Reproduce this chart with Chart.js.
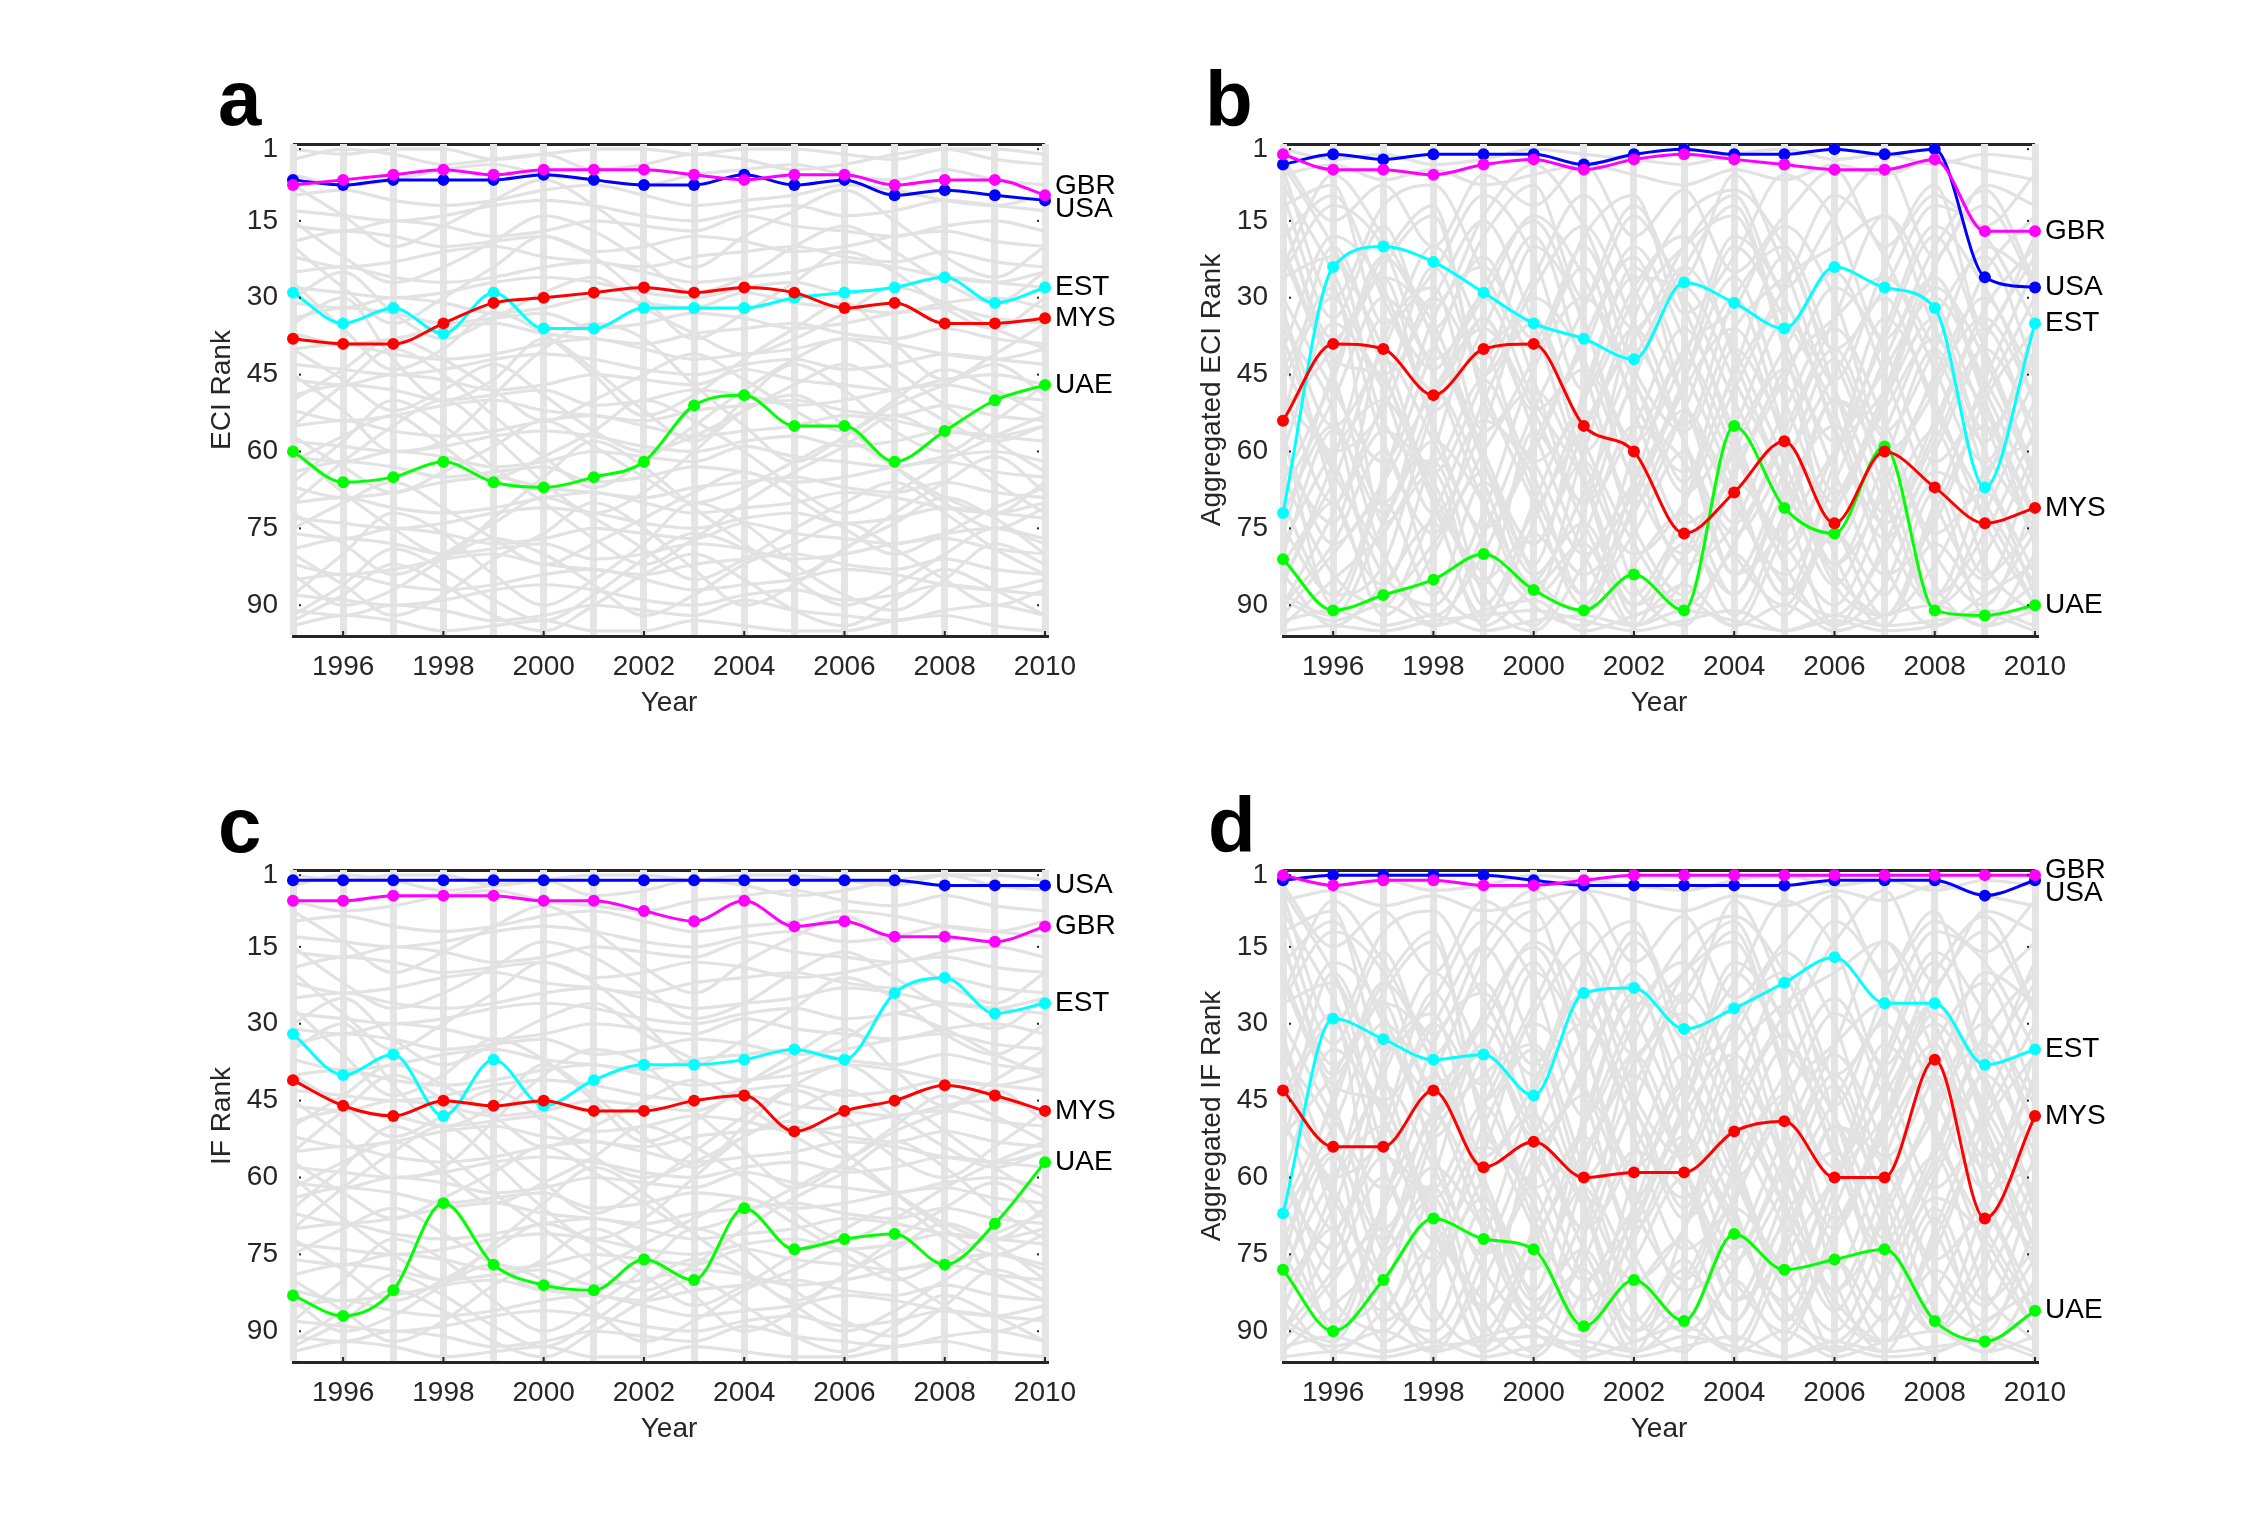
<!DOCTYPE html>
<html>
<head>
<meta charset="utf-8">
<script src="https://cdn.jsdelivr.net/npm/chart.js@4.4.0/dist/chart.umd.min.js"></script>
<style>
  body { margin: 0; background: #fff; width: 2250px; height: 1533px; position: relative; overflow: hidden; }
  canvas { position: absolute; }
</style>
</head>
<body>
<canvas id="panelA" width="1125" height="766" style="left:0;top:0"></canvas>
<canvas id="panelB" width="1125" height="766" style="left:1125px;top:0"></canvas>
<canvas id="panelC" width="1125" height="767" style="left:0;top:766px"></canvas>
<canvas id="panelD" width="1125" height="767" style="left:1125px;top:766px"></canvas>
<script>
const years = [1995, 1996, 1997, 1998, 1999, 2000, 2001, 2002, 2003, 2004, 2005, 2006, 2007, 2008, 2009, 2010];
const yearTicks = [1996, 1998, 2000, 2002, 2004, 2006, 2008, 2010];
const rankTicks = [1, 15, 30, 45, 60, 75, 90];

// a: ECI rank
const eciUSA = [7, 8, 7, 7, 7, 6, 7, 8, 8, 6, 8, 7, 10, 9, 10, 11];
const eciGBR = [8, 7, 6, 5, 6, 5, 5, 5, 6, 7, 6, 6, 8, 7, 7, 10];
const eciEST = [29, 35, 32, 37, 29, 36, 36, 32, 32, 32, 30, 29, 28, 26, 31, 28];
const eciMYS = [38, 39, 39, 35, 31, 30, 29, 28, 29, 28, 29, 32, 31, 35, 35, 34];
const eciUAE = [60, 66, 65, 62, 66, 67, 65, 62, 51, 49, 55, 55, 62, 56, 50, 47];

// b: aggregated ECI rank
const aggEciUSA = [4, 2, 3, 2, 2, 2, 4, 2, 1, 2, 2, 1, 2, 1, 26, 28];
const aggEciGBR = [2, 5, 5, 6, 4, 3, 5, 3, 2, 3, 4, 5, 5, 3, 17, 17];
const aggEciEST = [72, 24, 20, 23, 29, 35, 38, 42, 27, 31, 36, 24, 28, 32, 67, 35];
const aggEciMYS = [54, 39, 40, 49, 40, 39, 55, 60, 76, 68, 58, 74, 60, 67, 74, 71];
const aggEciUAE = [81, 91, 88, 85, 80, 87, 91, 84, 91, 55, 71, 76, 59, 91, 92, 90];

// c: IF rank
const ifUSA = [2, 2, 2, 2, 2, 2, 2, 2, 2, 2, 2, 2, 2, 3, 3, 3];
const ifGBR = [6, 6, 5, 5, 5, 6, 6, 8, 10, 6, 11, 10, 13, 13, 14, 11];
const ifEST = [32, 40, 36, 48, 37, 46, 41, 38, 38, 37, 35, 37, 24, 21, 28, 26];
const ifMYS = [41, 46, 48, 45, 46, 45, 47, 47, 45, 44, 51, 47, 45, 42, 44, 47];
const ifUAE = [83, 87, 82, 65, 77, 81, 82, 76, 80, 66, 74, 72, 71, 77, 69, 57];

// d: aggregated IF rank
const aggIfUSA = [2, 1, 1, 1, 1, 2, 3, 3, 3, 3, 3, 2, 2, 2, 5, 2];
const aggIfGBR = [1, 3, 2, 2, 3, 3, 2, 1, 1, 1, 1, 1, 1, 1, 1, 1];
const aggIfEST = [67, 29, 33, 37, 36, 44, 24, 23, 31, 27, 22, 17, 26, 26, 38, 35];
const aggIfMYS = [43, 54, 54, 43, 58, 53, 60, 59, 59, 51, 49, 60, 60, 37, 68, 48];
const aggIfUAE = [78, 90, 80, 68, 72, 74, 89, 80, 88, 71, 78, 76, 74, 88, 92, 86];

// other countries (grey), yearly ranks - the steadier set for a and c
const greyRanks = [
  [1, 2, 1, 1, 3, 2, 1, 1, 2, 1, 1, 2, 3, 1, 1, 2],
  [3, 1, 2, 4, 3, 2, 5, 4, 2, 3, 5, 4, 2, 1, 3, 4],
  [6, 8, 7, 5, 4, 6, 7, 8, 6, 5, 4, 6, 7, 5, 7, 8],
  [10, 9, 11, 12, 11, 9, 8, 10, 12, 11, 10, 8, 9, 11, 12, 10],
  [13, 14, 15, 14, 12, 11, 12, 14, 15, 13, 12, 14, 13, 11, 12, 13],
  [16, 17, 15, 16, 18, 17, 15, 16, 17, 14, 16, 17, 18, 16, 15, 17],
  [19, 17, 18, 20, 19, 18, 21, 20, 18, 19, 21, 20, 18, 17, 19, 20],
  [22, 24, 23, 21, 20, 22, 23, 24, 22, 21, 20, 22, 23, 21, 23, 24],
  [25, 24, 26, 27, 26, 24, 23, 25, 27, 26, 25, 23, 24, 26, 27, 25],
  [28, 29, 30, 29, 27, 26, 27, 29, 30, 28, 27, 29, 28, 26, 27, 28],
  [31, 32, 30, 31, 33, 32, 30, 31, 32, 29, 31, 32, 33, 31, 30, 32],
  [34, 32, 33, 35, 34, 33, 36, 35, 33, 34, 36, 35, 33, 32, 34, 35],
  [37, 39, 38, 36, 35, 37, 38, 39, 37, 36, 35, 37, 38, 36, 38, 39],
  [40, 39, 41, 42, 41, 39, 38, 40, 42, 41, 40, 38, 39, 41, 42, 40],
  [43, 44, 45, 44, 42, 41, 42, 44, 45, 43, 42, 44, 43, 41, 42, 43],
  [46, 47, 45, 46, 48, 47, 45, 46, 47, 44, 46, 47, 48, 46, 45, 47],
  [49, 47, 48, 50, 49, 48, 51, 50, 48, 49, 51, 50, 48, 47, 49, 50],
  [52, 54, 53, 51, 50, 52, 53, 54, 52, 51, 50, 52, 53, 51, 53, 54],
  [55, 54, 56, 57, 56, 54, 53, 55, 57, 56, 55, 53, 54, 56, 57, 55],
  [58, 59, 60, 59, 57, 56, 57, 59, 60, 58, 57, 59, 58, 56, 57, 58],
  [61, 62, 60, 61, 63, 62, 60, 61, 62, 59, 61, 62, 63, 61, 60, 62],
  [64, 62, 63, 65, 64, 63, 66, 65, 63, 64, 66, 65, 63, 62, 64, 65],
  [67, 69, 68, 66, 65, 67, 68, 69, 67, 66, 65, 67, 68, 66, 68, 69],
  [70, 69, 71, 72, 71, 69, 68, 70, 72, 71, 70, 68, 69, 71, 72, 70],
  [73, 74, 75, 74, 72, 71, 72, 74, 75, 73, 72, 74, 73, 71, 72, 73],
  [76, 77, 75, 76, 78, 77, 75, 76, 77, 74, 76, 77, 78, 76, 75, 77],
  [79, 77, 78, 80, 79, 78, 81, 80, 78, 79, 81, 80, 78, 77, 79, 80],
  [82, 84, 83, 81, 80, 82, 83, 84, 82, 81, 80, 82, 83, 81, 83, 84],
  [85, 84, 86, 87, 86, 84, 83, 85, 87, 86, 85, 83, 84, 86, 87, 85],
  [88, 89, 90, 89, 87, 86, 87, 89, 90, 88, 87, 89, 88, 86, 87, 88],
  [91, 92, 90, 91, 93, 92, 90, 91, 92, 89, 91, 92, 93, 91, 90, 92],
  [94, 92, 93, 95, 94, 93, 95, 95, 93, 94, 95, 95, 93, 92, 94, 95],
  [45, 52, 60, 58, 49, 40, 35, 38, 47, 55, 62, 57, 50, 44, 48, 53],
  [70, 62, 55, 50, 57, 66, 72, 68, 60, 52, 49, 55, 63, 70, 75, 71],
  [20, 28, 35, 30, 24, 18, 22, 30, 38, 33, 27, 21, 25, 32, 36, 30],
  [88, 80, 72, 76, 84, 90, 85, 78, 70, 74, 82, 88, 91, 85, 78, 82],
  [35, 30, 42, 50, 46, 38, 44, 52, 58, 50, 43, 48, 56, 60, 54, 47],
  [60, 68, 75, 80, 73, 65, 58, 63, 71, 78, 84, 79, 72, 66, 61, 68],
  [8, 14, 20, 16, 11, 7, 12, 19, 24, 18, 13, 9, 15, 22, 26, 20],
  [55, 47, 40, 45, 53, 61, 67, 62, 55, 48, 42, 38, 44, 51, 58, 64],
  [80, 86, 92, 88, 81, 76, 70, 75, 83, 90, 86, 79, 74, 69, 73, 80],
  [27, 36, 44, 40, 33, 37, 45, 53, 49, 42, 36, 31, 39, 46, 41, 35],
  [66, 58, 50, 55, 63, 70, 77, 82, 77, 70, 64, 59, 53, 58, 66, 72],
  [93, 88, 82, 86, 92, 95, 90, 84, 80, 85, 91, 94, 89, 83, 87, 92],
  [50, 44, 38, 42, 48, 54, 50, 45, 41, 46, 52, 56, 51, 47, 43, 49],
  [75, 70, 66, 71, 77, 82, 78, 73, 68, 64, 69, 75, 80, 76, 71, 67],
  [15, 22, 27, 24, 19, 14, 17, 23, 29, 26, 20, 16, 21, 27, 31, 25],
  [62, 57, 53, 59, 65, 61, 56, 50, 54, 60, 67, 72, 68, 62, 57, 53],
  [84, 90, 87, 81, 77, 80, 86, 92, 88, 82, 78, 74, 79, 85, 90, 87],
  [40, 46, 52, 48, 43, 49, 56, 60, 57, 52, 47, 43, 48, 54, 58, 55],
  [30, 25, 33, 38, 34, 29, 26, 32, 37, 41, 38, 33, 28, 31, 36, 40],
  [72, 78, 84, 80, 74, 69, 73, 79, 85, 81, 75, 70, 66, 72, 79, 84],
  [57, 63, 68, 64, 59, 54, 59, 65, 70, 67, 62, 58, 63, 69, 72, 66],
  [92, 86, 79, 83, 89, 93, 88, 81, 76, 79, 85, 90, 86, 80, 75, 78]
];

// other countries (grey) - the jumpier aggregated set for b and d
const greyAggRanks = [
  [5, 30, 12, 8, 25, 40, 18, 10, 33, 22, 6, 15, 38, 20, 9, 27],
  [60, 35, 48, 72, 55, 30, 42, 66, 80, 58, 40, 25, 45, 70, 85, 62],
  [90, 78, 60, 85, 93, 70, 52, 75, 88, 65, 47, 80, 94, 72, 55, 78],
  [20, 45, 70, 50, 28, 15, 35, 58, 42, 18, 30, 55, 77, 60, 38, 22],
  [75, 88, 65, 40, 62, 84, 91, 70, 48, 36, 58, 82, 68, 45, 30, 50],
  [40, 18, 28, 55, 75, 60, 38, 22, 50, 70, 84, 66, 42, 26, 48, 68],
  [12, 8, 35, 25, 10, 22, 48, 30, 14, 9, 20, 40, 28, 12, 18, 35],
  [85, 70, 92, 80, 60, 48, 65, 88, 76, 92, 72, 50, 62, 86, 94, 80],
  [33, 55, 40, 20, 38, 62, 50, 28, 18, 42, 65, 78, 56, 34, 22, 44],
  [68, 50, 30, 45, 70, 88, 76, 55, 62, 80, 90, 70, 52, 38, 60, 75],
  [50, 62, 84, 90, 72, 44, 30, 46, 68, 55, 35, 48, 70, 88, 76, 56],
  [25, 12, 20, 42, 30, 14, 26, 50, 64, 45, 28, 10, 22, 44, 62, 40],
  [94, 85, 76, 62, 88, 95, 82, 66, 52, 70, 86, 92, 80, 64, 72, 90],
  [8, 25, 45, 30, 15, 35, 60, 42, 24, 12, 38, 58, 36, 16, 28, 46],
  [58, 78, 66, 48, 36, 52, 74, 90, 80, 60, 44, 64, 84, 74, 50, 36],
  [78, 60, 50, 68, 85, 72, 55, 40, 58, 76, 62, 45, 30, 52, 70, 86],
  [15, 38, 22, 12, 45, 28, 16, 35, 55, 30, 20, 42, 60, 48, 25, 14],
  [46, 30, 58, 76, 50, 35, 62, 80, 70, 48, 32, 56, 74, 58, 40, 55],
  [88, 92, 74, 58, 70, 86, 78, 94, 85, 66, 78, 90, 72, 56, 82, 92],
  [30, 48, 62, 40, 22, 46, 70, 55, 36, 58, 80, 60, 44, 30, 46, 64],
  [65, 84, 90, 72, 54, 65, 88, 76, 60, 84, 74, 50, 58, 80, 90, 70],
  [3, 15, 8, 20, 6, 12, 4, 18, 9, 25, 14, 5, 20, 10, 16, 6],
  [52, 40, 26, 35, 60, 78, 56, 38, 28, 46, 66, 86, 66, 46, 34, 50],
  [72, 55, 80, 92, 80, 58, 44, 62, 82, 74, 52, 36, 54, 76, 68, 88],
  [38, 60, 52, 30, 42, 20, 34, 64, 46, 26, 50, 70, 50, 34, 56, 42],
  [82, 66, 42, 58, 78, 90, 94, 82, 72, 88, 68, 55, 76, 90, 80, 60],
  [18, 10, 30, 48, 34, 52, 40, 20, 38, 60, 46, 28, 40, 62, 48, 30],
  [92, 80, 70, 88, 66, 78, 62, 86, 94, 80, 92, 76, 88, 68, 92, 86],
  [48, 70, 56, 66, 86, 56, 70, 48, 66, 40, 56, 74, 92, 82, 64, 58],
  [26, 22, 54, 62, 46, 68, 84, 72, 54, 68, 88, 62, 34, 50, 74, 90],
  [62, 74, 38, 28, 56, 42, 24, 52, 74, 64, 44, 34, 26, 40, 58, 36],
  [10, 34, 16, 36, 18, 8, 30, 14, 26, 6, 24, 46, 24, 8, 36, 18],
  [70, 88, 82, 52, 40, 34, 58, 78, 90, 78, 58, 40, 64, 88, 66, 46],
  [44, 28, 74, 64, 90, 76, 88, 60, 40, 32, 16, 30, 56, 40, 20, 26],
  [86, 62, 34, 44, 30, 50, 66, 92, 86, 94, 76, 60, 48, 28, 42, 66],
  [36, 52, 88, 78, 64, 82, 48, 26, 30, 50, 70, 94, 86, 66, 84, 74],
  [56, 90, 66, 34, 24, 38, 20, 44, 56, 36, 26, 20, 14, 36, 52, 72],
  [76, 44, 24, 14, 50, 62, 80, 68, 46, 20, 34, 52, 82, 94, 88, 82],
  [22, 42, 46, 70, 84, 94, 72, 34, 20, 14, 40, 68, 50, 24, 12, 28],
  [95, 94, 95, 93, 92, 91, 93, 95, 93, 91, 95, 93, 95, 94, 91, 94],
  [1, 3, 2, 4, 3, 1, 2, 3, 4, 2, 1, 3, 2, 4, 2, 3],
  [6, 4, 7, 5, 8, 6, 4, 6, 8, 5, 7, 4, 6, 3, 5, 7],
  [93, 91, 94, 92, 95, 93, 92, 94, 91, 93, 95, 92, 94, 93, 92, 95],
  [89, 93, 90, 94, 91, 89, 95, 92, 89, 94, 90, 95, 92, 90, 94, 91],
  [14, 40, 26, 52, 36, 18, 44, 70, 52, 30, 56, 82, 62, 40, 64, 84],
  [80, 56, 72, 48, 66, 88, 60, 36, 58, 84, 64, 42, 68, 90, 72, 50],
  [32, 68, 86, 60, 34, 56, 80, 94, 70, 44, 22, 48, 72, 54, 32, 20],
  [54, 20, 44, 70, 92, 74, 50, 24, 44, 66, 88, 72, 48, 26, 50, 74],
  [90, 72, 50, 24, 48, 70, 90, 66, 42, 60, 82, 94, 78, 56, 36, 58],
  [4, 20, 40, 64, 46, 26, 10, 28, 50, 74, 56, 34, 14, 30, 54, 78],
  [66, 46, 22, 38, 62, 84, 68, 46, 24, 40, 62, 86, 92, 70, 46, 24],
  [42, 64, 80, 94, 76, 52, 32, 12, 32, 56, 78, 60, 38, 18, 40, 64],
  [24, 6, 18, 32, 14, 4, 16, 36, 20, 10, 28, 14, 4, 22, 8, 12],
  [84, 94, 86, 74, 94, 86, 74, 90, 78, 88, 70, 84, 92, 78, 88, 76]
];

const ink = '#262626';
const greyLine = '#e2e2e2';
const fontFamily = '"Liberation Sans", Arial, sans-serif';
const countryColors = { USA: '#0000ff', GBR: '#ff00ff', EST: '#00ffff', MYS: '#ff0000', UAE: '#00ff00' };
// lower order is drawn on top
const drawOrder = { GBR: 1, USA: 2, MYS: 3, UAE: 4, EST: 5 };

const toPoints = (vals) => vals.map((v, i) => ({ x: years[i], y: v }));

// letter, end labels and the small inward tick marks
const panelDecor = {
  id: 'panelDecor',
  afterDatasetsDraw(chart, args, opts) {
    const { ctx, chartArea, scales } = chart;
    const x = scales.x, y = scales.y;
    ctx.save();

    ctx.strokeStyle = ink;
    ctx.lineWidth = 2;
    yearTicks.forEach(v => {
      const px = x.getPixelForValue(v);
      ctx.beginPath();
      ctx.moveTo(px, chartArea.bottom);
      ctx.lineTo(px, chartArea.bottom - 5);
      ctx.stroke();
    });
    ctx.fillStyle = ink;
    rankTicks.forEach(v => {
      const py = y.getPixelForValue(v);
      ctx.fillRect(chartArea.left + 6, py - 1, 2, 2);
      ctx.fillRect(chartArea.right - 8, py - 1, 2, 2);
    });

    // country names at the end of each highlighted line, spread apart if they clash
    const gap = 23;
    const ends = chart.data.datasets.filter(d => d.label).map(d => ({
      text: d.label,
      y: y.getPixelForValue(d.data[d.data.length - 1].y)
    }));
    ends.sort((a, b) => a.y - b.y);
    for (let i = 1; i < ends.length; i++) {
      if (ends[i].y - ends[i - 1].y < gap) {
        const mid = (ends[i].y + ends[i - 1].y) / 2;
        ends[i - 1].y = mid - gap / 2;
        ends[i].y = mid + gap / 2;
      }
    }
    if (ends.length && ends[0].y < chartArea.top) {
      ends[0].y = chartArea.top;
      for (let i = 1; i < ends.length; i++) {
        if (ends[i].y - ends[i - 1].y < gap) ends[i].y = ends[i - 1].y + gap;
      }
    }
    const lx = x.getPixelForValue(years[years.length - 1]) + 10;
    ctx.font = '28px ' + fontFamily;
    ctx.textAlign = 'left';
    ctx.textBaseline = 'middle';
    ctx.fillStyle = '#000';
    ends.forEach(e => ctx.fillText(e.text, lx, e.y));

    ctx.font = 'bold 78px ' + fontFamily;
    ctx.textBaseline = 'alphabetic';
    ctx.fillText(opts.letter, opts.lx, opts.ly);
    ctx.restore();
  }
};

function rankPanel(canvasId, letter, letterPos, yTitle, series, grey, pad) {
  const datasets = series.map(s => ({
    label: s.name,
    data: toPoints(s.values),
    borderColor: countryColors[s.name],
    backgroundColor: countryColors[s.name],
    pointBackgroundColor: countryColors[s.name],
    borderWidth: 3,
    pointRadius: 6,
    pointBorderWidth: 0,
    cubicInterpolationMode: 'monotone',
    clip: false,
    order: drawOrder[s.name]
  }));
  grey.forEach(row => datasets.push({
    data: toPoints(row),
    borderColor: greyLine,
    borderWidth: 3.2,
    pointRadius: 0,
    cubicInterpolationMode: 'monotone',
    order: 20
  }));

  const tickFont = { family: fontFamily, size: 28 };

  new Chart(document.getElementById(canvasId), {
    type: 'line',
    data: { datasets },
    plugins: [panelDecor],
    options: {
      responsive: false,
      animation: false,
      devicePixelRatio: 1,
      events: [],
      layout: { padding: pad },
      plugins: {
        legend: { display: false },
        tooltip: { enabled: false },
        panelDecor: { letter: letter, lx: letterPos[0], ly: letterPos[1] }
      },
      scales: {
        y: {
          type: 'linear',
          reverse: true,
          min: 0,
          max: 96,
          afterBuildTicks: s => { s.ticks = [0, ...rankTicks].map(v => ({ value: v })); },
          afterFit: s => { s.width = 93; },
          ticks: {
            autoSkip: false,
            padding: 15,
            color: ink,
            font: tickFont,
            callback: v => rankTicks.includes(v) ? String(v) : ''
          },
          grid: {
            z: -2,
            drawTicks: false,
            lineWidth: 3,
            color: c => (c.tick && c.tick.value === 0) ? ink : 'rgba(0,0,0,0)'
          },
          border: { display: false },
          title: { display: true, text: yTitle, color: ink, font: tickFont, padding: { top: 5, bottom: 0 } }
        },
        x: {
          type: 'linear',
          min: 1995,
          max: 2010,
          afterBuildTicks: s => { s.ticks = years.map(v => ({ value: v })); },
          afterFit: s => { s.height = 90; },
          ticks: {
            autoSkip: false,
            maxRotation: 0,
            padding: 14,
            color: ink,
            font: tickFont,
            callback: v => yearTicks.includes(v) ? String(v) : ''
          },
          grid: { z: -1, drawTicks: false, lineWidth: 7, color: '#e5e5e5' },
          border: { color: ink, width: 3 },
          title: { display: true, text: 'Year', color: ink, font: tickFont, padding: { top: 0, bottom: 6 } }
        }
      }
    }
  });
}

rankPanel('panelA', 'a', [218, 125], 'ECI Rank', [
  { name: 'GBR', values: eciGBR },
  { name: 'USA', values: eciUSA },
  { name: 'EST', values: eciEST },
  { name: 'MYS', values: eciMYS },
  { name: 'UAE', values: eciUAE }
], greyRanks, { left: 200, top: 144, right: 80, bottom: 40 });

rankPanel('panelB', 'b', [80, 126], 'Aggregated ECI Rank', [
  { name: 'GBR', values: aggEciGBR },
  { name: 'USA', values: aggEciUSA },
  { name: 'EST', values: aggEciEST },
  { name: 'MYS', values: aggEciMYS },
  { name: 'UAE', values: aggEciUAE }
], greyAggRanks, { left: 65, top: 144, right: 215, bottom: 40 });

rankPanel('panelC', 'c', [218, 86], 'IF Rank', [
  { name: 'USA', values: ifUSA },
  { name: 'GBR', values: ifGBR },
  { name: 'EST', values: ifEST },
  { name: 'MYS', values: ifMYS },
  { name: 'UAE', values: ifUAE }
], greyRanks, { left: 200, top: 104, right: 80, bottom: 81 });

rankPanel('panelD', 'd', [83, 86], 'Aggregated IF Rank', [
  { name: 'GBR', values: aggIfGBR },
  { name: 'USA', values: aggIfUSA },
  { name: 'EST', values: aggIfEST },
  { name: 'MYS', values: aggIfMYS },
  { name: 'UAE', values: aggIfUAE }
], greyAggRanks, { left: 65, top: 104, right: 215, bottom: 81 });
</script>
</body>
</html>
